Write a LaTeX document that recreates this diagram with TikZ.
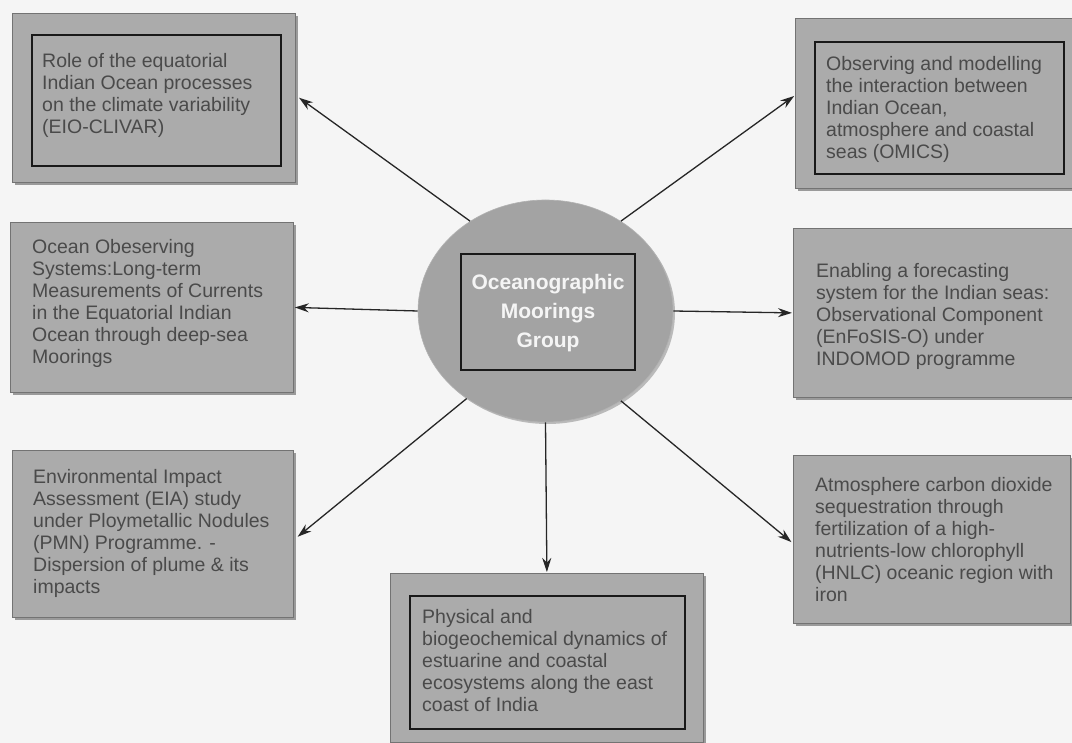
\documentclass[tikz,border=0pt]{standalone}
\usepackage{fontspec}
\setmainfont{Liberation Sans}
\usetikzlibrary{shapes.geometric,shadows,arrows.meta}
\definecolor{boxfill}{HTML}{ABABAB}
\definecolor{ellfill}{HTML}{A3A3A3}
\definecolor{txtcol}{HTML}{4A4A4A}
\definecolor{bgcol}{HTML}{F5F5F5}
\begin{document}
\begin{tikzpicture}[x=1pt,y=-1pt,
  box/.style={draw=black!55, line width=0.8pt, fill=boxfill, inner sep=0pt, anchor=north west,
    drop shadow={shadow xshift=3pt,shadow yshift=-3pt,opacity=0.5,fill=black!75}},
  frame/.style={draw=black!90, line width=1.6pt, inner sep=0pt, anchor=north west},
  txt/.style={text=txtcol, font=\fontsize{19.5}{22}\selectfont, align=left, inner sep=0pt, anchor=west},
  ctxt/.style={text=white!92!gray, font=\bfseries\fontsize{21}{29}\selectfont, align=center, inner sep=0pt},
  ell/.style={ellipse, fill=ellfill, draw=black!30, line width=0.6pt, inner sep=0pt,
    drop shadow={shadow xshift=2pt,shadow yshift=-2pt,opacity=0.35,fill=black!70}},
  arr/.style={draw=black!85, line width=1.3pt, -{Stealth[length=14pt,width=9pt]}}
]
\fill[bgcol] (0,0) rectangle (1072,743);
\useasboundingbox (0,0) rectangle (1072,743);

% central ellipse
\node[ell, minimum width=255pt, minimum height=222pt] (c) at (545.5,311) {};
\node[frame, anchor=center, minimum width=174pt, minimum height=116pt] (cf) at (548,312) {};
\node[ctxt] (ct) at (548,313) {Oceanographic\\Moorings\\Group};

% top-left
\node[box, minimum width=283pt, minimum height=169pt] (b1) at (12,13) {};
\node[frame, minimum width=249pt, minimum height=131pt] (f1) at (31,34) {};
\node[txt] (t1) at ([xshift=30pt,yshift=2.5pt]b1.west) {Role of the equatorial\\Indian Ocean processes\\on the climate variability\\(EIO-CLIVAR)};

% top-right
\node[box, minimum width=277pt, minimum height=170pt] (b2) at (795,18) {};
\node[frame, minimum width=249pt, minimum height=132pt] (f2) at (814,41) {};
\node[txt] (t2) at ([xshift=31pt,yshift=-6pt]b2.west) {Observing and modelling\\the interaction between\\Indian Ocean,\\atmosphere and coastal\\seas (OMICS)};

% mid-left
\node[box, minimum width=283pt, minimum height=170pt] (b3) at (10,222) {};
\node[txt] (t3) at ([xshift=22pt,yshift=4pt]b3.west) {Ocean Obeserving\\Systems:Long-term\\Measurements of Currents\\in the Equatorial Indian\\Ocean through deep-sea\\Moorings};

% mid-right
\node[box, minimum width=279pt, minimum height=169pt] (b4) at (793,228) {};
\node[txt] (t4) at ([xshift=23pt,yshift=-3.5pt]b4.west) {Enabling a forecasting\\system for the Indian seas:\\Observational Component\\(EnFoSIS-O) under\\INDOMOD programme};

% bottom-left
\node[box, minimum width=281pt, minimum height=167pt] (b5) at (12,450) {};
\node[txt] (t5) at ([xshift=21pt]b5.west) {Environmental Impact\\Assessment (EIA) study\\under Ploymetallic Nodules\\(PMN) Programme. -\\Dispersion of plume \& its\\impacts};

% bottom-right
\node[box, minimum width=277pt, minimum height=168pt] (b6) at (793,455) {};
\node[txt] (t6) at ([xshift=22pt]b6.west) {Atmosphere carbon dioxide\\sequestration through\\fertilization of a high-\\nutrients-low chlorophyll\\(HNLC) oceanic region with\\iron};

% bottom-centre
\node[box, minimum width=313pt, minimum height=169pt] (b7) at (390,573) {};
\node[frame, minimum width=275pt, minimum height=133pt] (f7) at (409,595) {};
\node[txt] (t7) at ([xshift=32pt,yshift=-2.5pt]b7.west) {Physical and\\biogeochemical dynamics of\\estuarine and coastal\\ecosystems along the east\\coast of India};

% connectors
\draw[arr, shorten >=4pt] (c.130) -- ([yshift=2.5pt]b1.east);
\draw[arr, shorten >=1pt] (c.50) -- ([yshift=8pt]b2.west);
\draw[arr, shorten >=1pt] (c.west) -- (b3.east);
\draw[arr, shorten >=1pt] (c.east) -- (b4.west);
\draw[arr, shorten >=5pt] (c.228) -- ([yshift=-6pt]b5.east);
\draw[arr, shorten >=1pt] (c.south) -- (b7.north);
\draw[arr, shorten >=2pt] (c.310) -- ([yshift=-4pt]b6.west);
\end{tikzpicture}
\end{document}
